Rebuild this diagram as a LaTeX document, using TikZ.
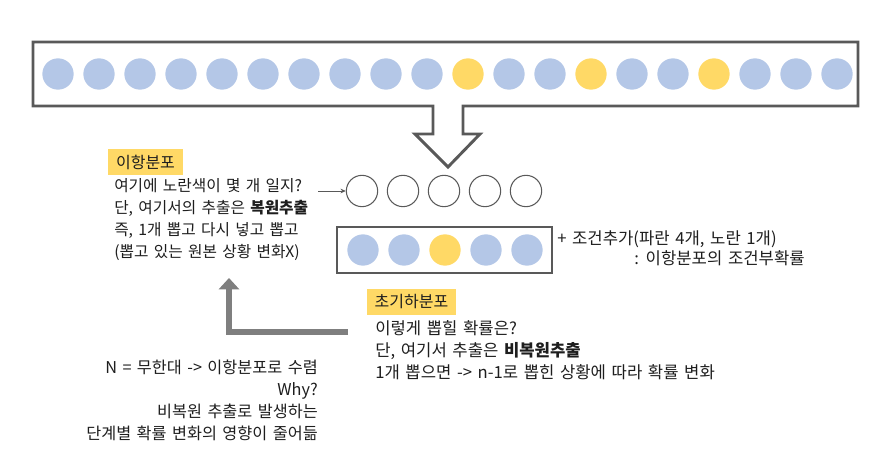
\documentclass[tikz,border=0pt]{standalone}
\usepackage{fontspec}
\setmainfont{Noto Sans CJK KR}[WordSpace=1.5]
\usetikzlibrary{arrows.meta}
\definecolor{cblue}{HTML}{B4C7E7}
\definecolor{cyel}{HTML}{FFD966}
\definecolor{cline}{HTML}{595959}
\definecolor{carrow}{HTML}{7F7F7F}
\definecolor{ctext}{HTML}{1E1E1E}
\begin{document}
\begin{tikzpicture}[x=0.75pt,y=-0.75pt,
  ball/.style={circle,minimum size=23.5pt,inner sep=0pt},
  emptyball/.style={ball,draw=cline,line width=0.8pt},
  txt/.style={font=\fontsize{12}{16.5}\selectfont,inner sep=0pt,text=ctext},
  txtA/.style={txt,font=\fontsize{11.8}{16.5}\selectfont},
  txtB/.style={txt,font=\fontsize{12.5}{16.5}\selectfont},
  txtC/.style={txt,font=\fontsize{12.2}{16.5}\selectfont},
  hl/.style={txt,fill=cyel,inner sep=0pt,minimum height=19pt},
  outline/.style={draw=cline,line width=2.2pt},
  thinarrow/.style={draw=cline,line width=0.6pt,-{Stealth[length=4pt,width=3.5pt]}},
  bigarrow/.style={draw=carrow,line width=4.5pt,-{Triangle[width=15pt,length=8.5pt]}}
]
\useasboundingbox (0,0) rectangle (889,470);

% top box with downward arrow
\draw[outline] (33,42) -- (858,42) -- (858,106) -- (463,106) -- (463,134) -- (480,134)
  -- (448,167) -- (415,134) -- (433,134) -- (433,106) -- (33,106) -- cycle;

\foreach \i/\c in {0/cblue,1/cblue,2/cblue,3/cblue,4/cblue,5/cblue,6/cblue,7/cblue,8/cblue,9/cblue,
  10/cyel,11/cblue,12/cblue,13/cyel,14/cblue,15/cblue,16/cyel,17/cblue,18/cblue,19/cblue}{
  \node[ball,fill=\c] (top\i) at ({58+41*\i},74) {};
}

% empty circles
\foreach \i in {0,...,4}{
  \node[emptyball] (e\i) at ({362+41*\i},191) {};
}

% box with five balls
\node[draw=cline,line width=1.8pt,minimum width=161.25pt,minimum height=34.5pt,inner sep=0pt] (box2) at (444.5,250) {};
\foreach \i/\c in {0/cblue,1/cblue,2/cyel,3/cblue,4/cblue}{
  \node[ball,fill=\c] (b\i) at ({363+41*\i},250) {};
}

% labels
\node[hl,minimum width=56.25pt] (h1) at (145.5,162) {이항분포};
\node[txtA,align=left,anchor=west] (t1) at (114,220) {여기에 노란색이 몇 개 일지?\\ 단, 여기서의 추출은 \textbf{복원추출}\\ 즉, 1개 뽑고 다시 넣고 뽑고\\ (뽑고 있는 원본 상황 변화X)};
\coordinate (a1s) at (318,191);
\draw[thinarrow] (a1s) -- (e0.west);

\node[txtB,anchor=west] (t4a) at (557,239) {+ 조건추가(파란 4개, 노란 1개)};
\node[txtB,anchor=west] (t4b) at (634,258) {: 이항분포의 조건부확률};

\node[hl,minimum width=66.75pt] (h2) at (411.5,302) {초기하분포};
\node[txtB,align=left,anchor=west] (t2) at (375,350) {이렇게 뽑힐 확률은?\\ 단, 여기서 추출은 \textbf{비복원추출}\\ 1개 뽑으면 -> n-1로 뽑힌 상황에 따라 확률 변화};

\node[txtC,align=right,anchor=east] (t3) at (318,400) {N = 무한대 -> 이항분포로 수렴\\ Why?\\ 비복원 추출로 발생하는\\ 단계별 확률 변화의 영향이 줄어듦};

% grey L arrow
\coordinate (la) at (348,332);
\coordinate (lb) at (229,332);
\coordinate (lc) at (229,278);
\draw[bigarrow] (la) -- (lb) -- (lc);
\end{tikzpicture}
\end{document}
